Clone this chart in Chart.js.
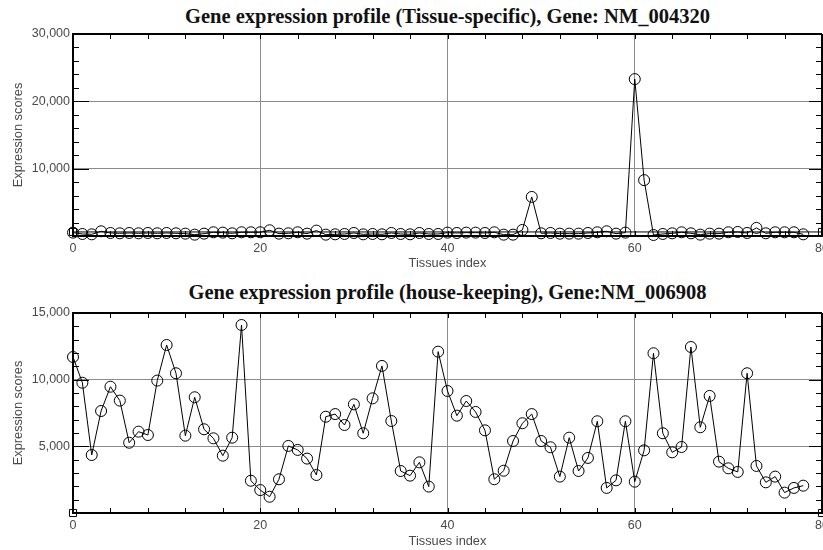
<!DOCTYPE html>
<html>
<head>
<meta charset="utf-8">
<script src="https://cdn.jsdelivr.net/npm/chart.js@4/dist/chart.umd.min.js"></script>
<style>
  html, body { margin: 0; padding: 0; background: #fff; }
  body { width: 823px; height: 550px; overflow: hidden; position: relative; }
  .panel { position: absolute; left: 0; width: 860px; }
  .panel-title {
    position: absolute; left: 73px; width: 749px; text-align: center;
    font: bold 20.5px "Liberation Serif", "Times New Roman", serif; line-height: 22px;
    color: #111; white-space: nowrap;
  }
</style>
</head>
<body>
  <div class="panel-title" style="top:5px">Gene expression profile (Tissue-specific), Gene: NM_004320</div>
  <div class="panel" style="top:0; height:272px"><canvas id="chart-tissue"></canvas></div>

  <div class="panel-title" style="top:281px">Gene expression profile (house-keeping), Gene:NM_006908</div>
  <div class="panel" style="top:272px; height:278px"><canvas id="chart-housekeeping"></canvas></div>

<script>
// Tissue index (x axis), shared by both profiles
const tissueIndex = [
  0, 1, 2, 3, 4, 5, 6, 7, 8, 9, 10, 11, 12, 13, 14, 15, 16, 17, 18, 19,
  20, 21, 22, 23, 24, 25, 26, 27, 28, 29, 30, 31, 32, 33, 34, 35, 36, 37, 38, 39,
  40, 41, 42, 43, 44, 45, 46, 47, 48, 49, 50, 51, 52, 53, 54, 55, 56, 57, 58, 59,
  60, 61, 62, 63, 64, 65, 66, 67, 68, 69, 70, 71, 72, 73, 74, 75, 76, 77, 78
];
const xTicks = [0, 20, 40, 60, 80];

// NM_004320 - tissue specific
const tissueScores = [
  500, 300, 250, 700, 450, 400, 450, 400, 450, 400,
  450, 400, 350, 200, 350, 550, 500, 400, 550, 550,
  550, 850, 350, 400, 550, 350, 800, 200, 250, 300,
  450, 250, 300, 250, 450, 300, 250, 450, 300, 300,
  500, 450, 500, 500, 450, 550, 200, 200, 900, 5800,
  400, 450, 350, 350, 350, 450, 550, 700, 350, 500,
  23300, 8300, 150, 300, 400, 550, 400, 200, 350, 350,
  550, 600, 450, 1200, 400, 550, 550, 550, 250
];
const tissueYTicks = [0, 10000, 20000, 30000];
const tissueRefLine = [600, 600];

// NM_006908 - house keeping
const housekeepingScores = [
  11700, 9770, 4350, 7650, 9470, 8430, 5270, 6100, 5850, 9930,
  12600, 10480, 5800, 8680, 6280, 5600, 4300, 5650, 14100, 2420,
  1720, 1220, 2530, 5030, 4730, 4080, 2850, 7220, 7420, 6600,
  8150, 5980, 8600, 11030, 6900, 3150, 2800, 3800, 1980, 12100,
  9150, 7300, 8400, 7580, 6200, 2530, 3170, 5400, 6730, 7420,
  5400, 4930, 2730, 5650, 3150, 4130, 6880, 1880, 2450, 6880,
  2350, 4700, 11980, 5980, 4550, 4950, 12450, 6430, 8780, 3850,
  3350, 3080, 10480, 3530, 2300, 2730, 1530, 1880, 2050
];
const housekeepingYTicks = [0, 5000, 10000, 15000];
const housekeepingRefLine = [0, 0];

const refLineX = [xTicks[0], xTicks[xTicks.length - 1]];

const TICK_FONT = { family: '"Liberation Sans", Arial, sans-serif', size: 12.5 };
const AXIS_TITLE_FONT = { family: '"Liberation Sans", Arial, sans-serif', size: 12.8 };
const TICK_COLOR = '#4a4a4a';
const GRID_COLOR = '#8c8c8c';

// Frame around the plot plus the small inward tick marks on all four sides
const frameTicks = {
  id: 'frameTicks',
  beforeDatasetsDraw(chart, args, opts) {
    const { ctx, chartArea: a } = chart;
    const xs = chart.scales.x, ys = chart.scales.y;
    const seg = (x1, y1, x2, y2) => { ctx.beginPath(); ctx.moveTo(x1, y1); ctx.lineTo(x2, y2); ctx.stroke(); };
    ctx.save();
    ctx.strokeStyle = '#000';
    ctx.lineWidth = 1;
    for (let v = xs.min; v <= xs.max; v += opts.xStep) {
      const px = Math.round(xs.getPixelForValue(v)) + 0.5;
      seg(px, a.bottom, px, a.bottom - 5);
      seg(px, a.top, px, a.top + 5);
    }
    for (let v = ys.min; v <= ys.max; v += opts.yStep) {
      const py = Math.round(ys.getPixelForValue(v)) + 0.5;
      const major = v % opts.yMajor === 0;
      seg(a.left, py, a.left + (major ? 16 : 6), py);
      seg(a.right, py, a.right - (major ? 13 : 6), py);
    }
    ctx.lineWidth = 2;
    seg(a.left, a.top, a.right, a.top);
    seg(a.right, a.top, a.right, a.bottom);
    ctx.restore();
  }
};

function buildChart(canvasId, scores, yTicks, refLine, minorStep, padTop, axisHeight) {
  const yMax = yTicks[yTicks.length - 1];
  const yMajor = yTicks[1] - yTicks[0];
  const hideEdge = (c) => (c.tick.value === c.scale.min || c.tick.value === c.scale.max) ? 'rgba(0,0,0,0)' : GRID_COLOR;

  return new Chart(document.getElementById(canvasId), {
    type: 'line',
    data: {
      labels: tissueIndex,
      datasets: [
        {
          data: scores,
          borderColor: '#000', borderWidth: 1, tension: 0,
          pointRadius: 5.5, pointBorderWidth: 1,
          pointBorderColor: '#000', pointBackgroundColor: 'rgba(0,0,0,0)',
          clip: false
        },
        {
          data: refLineX.map((x, i) => ({ x, y: refLine[i] })),
          borderColor: '#000', borderWidth: 1,
          pointStyle: 'rect', pointRadius: 5, pointBorderWidth: 1,
          pointBorderColor: '#000', pointBackgroundColor: 'rgba(0,0,0,0)',
          clip: false
        }
      ]
    },
    options: {
      responsive: true,
      maintainAspectRatio: false,
      animation: false,
      events: [],
      layout: { padding: { top: padTop, right: 38, bottom: 0, left: 0 } },
      plugins: {
        legend: { display: false },
        title: { display: false },
        tooltip: { enabled: false },
        frameTicks: { xStep: 4, yStep: minorStep, yMajor: yMajor }
      },
      scales: {
        x: {
          type: 'linear', min: 0, max: 80,
          afterBuildTicks: s => { s.ticks = xTicks.map(v => ({ value: v })); },
          afterFit: s => { s.height = axisHeight; },
          ticks: { font: TICK_FONT, color: TICK_COLOR, padding: 5, maxRotation: 0 },
          grid: { color: hideEdge, drawTicks: false, lineWidth: 1 },
          border: { color: '#000', width: 2 },
          title: { display: true, text: 'Tissues index', font: AXIS_TITLE_FONT, color: TICK_COLOR, padding: { top: 0, bottom: 1 } }
        },
        y: {
          min: 0, max: yMax,
          afterBuildTicks: s => { s.ticks = yTicks.map(v => ({ value: v })); },
          afterFit: s => { s.width = 73; },
          ticks: {
            font: TICK_FONT, color: TICK_COLOR, padding: 3,
            callback: v => v === 0 ? '' : v.toLocaleString('en-US')
          },
          grid: { color: hideEdge, drawTicks: false, lineWidth: 1 },
          border: { color: '#000', width: 2 },
          title: { display: true, text: 'Expression scores', font: AXIS_TITLE_FONT, color: TICK_COLOR, padding: { top: 11, bottom: 0 } }
        }
      }
    },
    plugins: [frameTicks]
  });
}

buildChart('chart-tissue', tissueScores, tissueYTicks, tissueRefLine, 2000, 34, 36);
buildChart('chart-housekeeping', housekeepingScores, housekeepingYTicks, housekeepingRefLine, 1000, 41, 37);
</script>
</body>
</html>
